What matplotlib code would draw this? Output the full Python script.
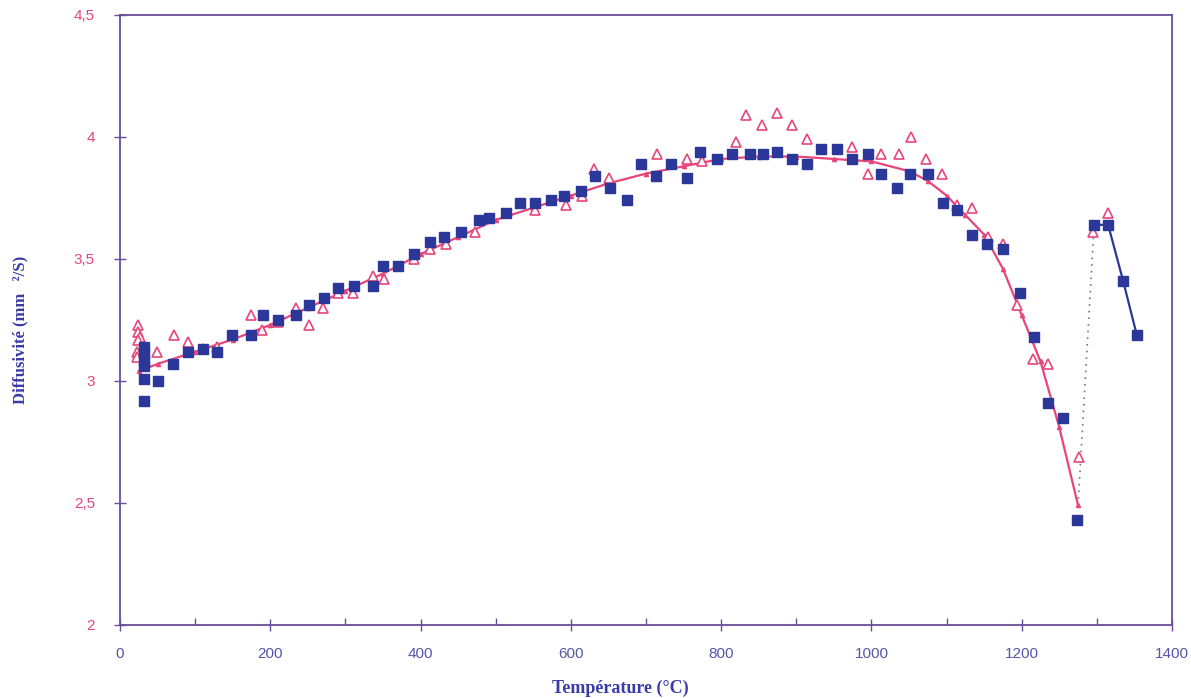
import matplotlib
matplotlib.use("Agg")
import matplotlib.pyplot as plt
from matplotlib.ticker import MultipleLocator, FuncFormatter

# Blue squares (measured)
sq_T = [32, 32, 32, 32, 32, 32, 51, 71, 90, 110, 129, 149, 174, 190, 210, 234, 251, 271, 290,
        311, 337, 350, 370, 391, 413, 431, 454, 478, 491, 514, 532, 552, 573, 591, 613, 632,
        652, 675, 693, 713, 733, 754, 772, 794, 814, 838, 856, 874, 894, 914, 933, 954, 974,
        996, 1013, 1034, 1051, 1075, 1095, 1114, 1134, 1154, 1175, 1198, 1216, 1235, 1255, 1274]
sq_D = [3.14, 3.11, 3.08, 3.06, 3.01, 2.92, 3.00, 3.07, 3.12, 3.13, 3.12, 3.19, 3.19, 3.27, 3.25,
        3.27, 3.31, 3.34, 3.38, 3.39, 3.39, 3.47, 3.47, 3.52, 3.57, 3.59, 3.61, 3.66, 3.67, 3.69,
        3.73, 3.73, 3.74, 3.76, 3.78, 3.84, 3.79, 3.74, 3.89, 3.84, 3.89, 3.83, 3.94, 3.91, 3.93,
        3.93, 3.93, 3.94, 3.91, 3.89, 3.95, 3.95, 3.91, 3.93, 3.85, 3.79, 3.85, 3.85, 3.73, 3.70,
        3.60, 3.56, 3.54, 3.36, 3.18, 2.91, 2.85, 2.43]

# Blue squares joined by a line (after the transition)
end_T = [1296, 1315, 1335, 1353]
end_D = [3.64, 3.64, 3.41, 3.19]

# Pink triangles
tr_T = [24, 24, 26, 24, 23, 23, 49, 72, 90, 110, 129, 174, 189, 210, 234, 251, 270, 290, 310,
        337, 351, 391, 413, 434, 472, 552, 593, 615, 631, 651, 715, 755, 775, 820, 833, 854,
        874, 894, 914, 974, 996, 1013, 1037, 1052, 1073, 1094, 1114, 1134, 1155, 1175, 1194,
        1215, 1235, 1276, 1295, 1315]
tr_D = [3.23, 3.20, 3.18, 3.17, 3.12, 3.10, 3.12, 3.19, 3.16, 3.13, 3.14, 3.27, 3.21, 3.24,
        3.30, 3.23, 3.30, 3.36, 3.36, 3.43, 3.42, 3.50, 3.54, 3.56, 3.61, 3.70, 3.72, 3.76,
        3.87, 3.83, 3.93, 3.91, 3.90, 3.98, 4.09, 4.05, 4.10, 4.05, 3.99, 3.96, 3.85, 3.93,
        3.93, 4.00, 3.91, 3.85, 3.72, 3.71, 3.59, 3.56, 3.31, 3.09, 3.07, 2.69, 3.61, 3.69]

# Fitted curve
fit_T = [25, 50, 100, 150, 200, 250, 300, 350, 400, 450, 500, 550, 600, 650, 700, 750, 800,
         850, 900, 950, 1000, 1050, 1075, 1100, 1125, 1150, 1175, 1200, 1225, 1250, 1275]
fit_D = [3.04, 3.07, 3.12, 3.17, 3.23, 3.30, 3.37, 3.44, 3.52, 3.59, 3.66, 3.71, 3.76, 3.81,
         3.85, 3.88, 3.91, 3.92, 3.92, 3.91, 3.90, 3.86, 3.82, 3.76, 3.68, 3.60, 3.46, 3.27,
         3.08, 2.81, 2.49]

# Transition (dotted)
jump_T = [1275, 1296]
jump_D = [2.49, 3.62]

x_ticks = [0, 200, 400, 600, 800, 1000, 1200, 1400]
y_ticks = [2, 2.5, 3, 3.5, 4, 4.5]

BLUE = "#2b3799"
PINK = "#e8457a"
FRAME = "#6b4c9a"

fig = plt.figure(figsize=(11.91, 6.98), dpi=100)
ax = fig.add_axes([120 / 1191, 1 - 625 / 698, (1172 - 120) / 1191, (625 - 15) / 698])

ax.plot(jump_T, jump_D, linestyle=(0, (1, 3)), color="#777777", linewidth=1.2, zorder=2)
ax.plot(fit_T, fit_D, color=PINK, linewidth=1.6, marker="^", markersize=3,
        markerfacecolor=PINK, markeredgecolor=PINK, zorder=3)
ax.plot(tr_T, tr_D, linestyle="none", marker="^", markersize=7.5, markerfacecolor="white",
        markeredgecolor=PINK, markeredgewidth=1.2, zorder=4)
ax.plot(sq_T, sq_D, linestyle="none", marker="s", markersize=7, markerfacecolor=BLUE,
        markeredgecolor=BLUE, zorder=5)
ax.plot(end_T, end_D, color=BLUE, linewidth=1.6, marker="s", markersize=7,
        markerfacecolor=BLUE, markeredgecolor=BLUE, zorder=5)

ax.set_xlim(0, 1400)
ax.set_ylim(2, 4.5)
ax.set_xticks(x_ticks)
ax.set_yticks(y_ticks)
ax.xaxis.set_minor_locator(MultipleLocator(100))
ax.yaxis.set_major_formatter(FuncFormatter(lambda v, p: f"{v:g}".replace(".", ",")))

for s in ax.spines.values():
    s.set_color(FRAME)
    s.set_linewidth(1.3)

ax.tick_params(axis="y", which="major", direction="inout", length=8, width=1, color=FRAME,
               labelcolor=PINK, labelsize=11, pad=14, right=False)
ax.tick_params(axis="x", which="major", direction="inout", length=8, width=1, color=FRAME,
               labelcolor="#5555aa", labelsize=11, pad=12, top=False)
ax.tick_params(axis="x", which="minor", direction="in", length=5, width=1, color=FRAME, top=False)
for lab in ax.get_xticklabels() + ax.get_yticklabels():
    lab.set_fontfamily("Liberation Sans")

fig.text(620 / 1191, 1 - 688 / 698, "Température (°C)", ha="center", va="center",
         fontsize=13, fontweight="bold", family="Liberation Serif", color="#3a3aa8")
fig.text(20 / 1191, 1 - 330 / 698, "Diffusivité (mm   ²/S)", ha="center", va="center",
         rotation=90, fontsize=12, fontweight="bold", family="Liberation Serif", color="#3a3aa8")

fig.savefig("out.png", dpi=100)
